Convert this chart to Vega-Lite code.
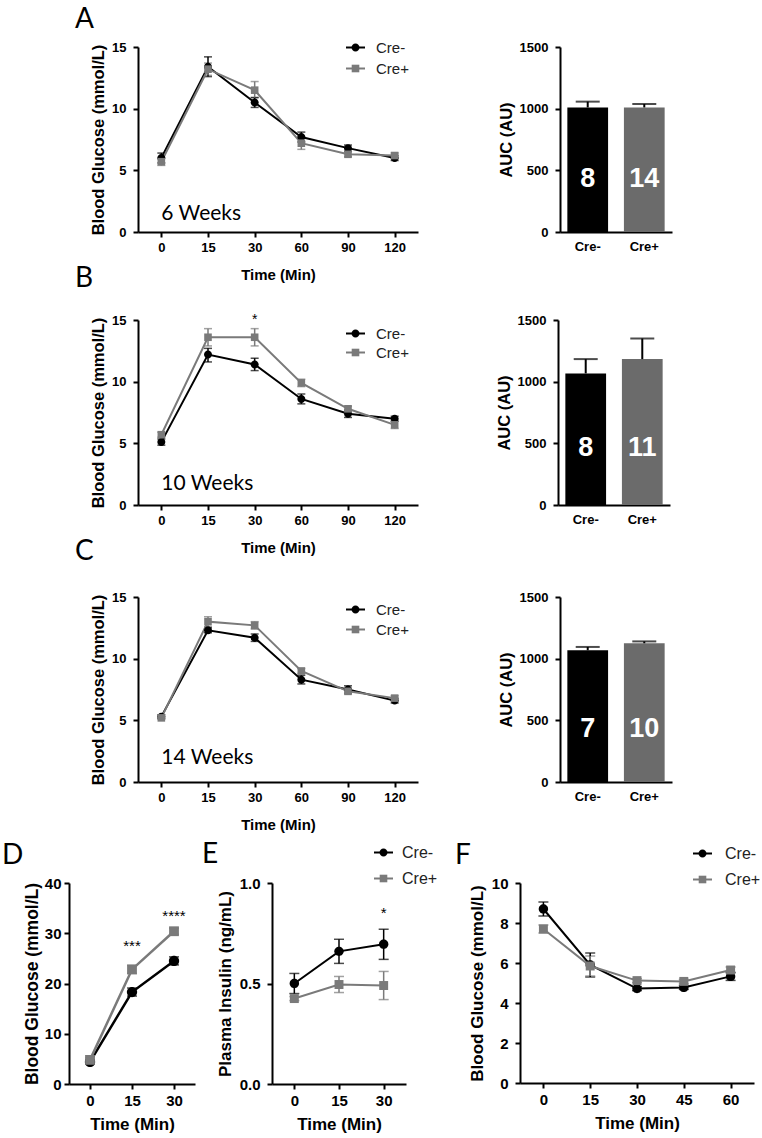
{
  "$schema": "https://vega.github.io/schema/vega-lite/v6.json",
  "padding": {"left": 2, "top": 6, "right": 2, "bottom": 2},
  "background": "white",
  "config": {
    "view": {"stroke": null},
    "font": "Liberation Sans",
    "axis": {
      "domainColor": "#000", "domainWidth": 2, "tickColor": "#000", "tickWidth": 2, "tickSize": 5,
      "labelFont": "Liberation Sans", "labelFontWeight": "bold", "labelFontSize": 13, "labelColor": "#000",
      "titleFont": "Liberation Sans", "titleFontWeight": "bold", "titleFontSize": 15, "titleColor": "#000",
      "grid": false, "labelAngle": 0, "labelPadding": 4, "labelOverlap": false
    },
    "axisY": {"titlePadding": 5, "labelPadding": 7, "titleFontSize": 16.5},
    "axisX": {"titlePadding": 13},
    "scale": {"nice": false},
    "title": {"font": "Lato", "fontWeight": "normal", "fontSize": 28, "anchor": "start", "frame": "group", "color": "#000"},
    "legend": {"orient": "none", "title": null, "labelFont": "Liberation Sans", "labelFontSize": 15, "labelColor": "#222", "symbolSize": 361, "rowPadding": 0, "labelOffset": 10, "symbolStrokeWidth": 2},
    "text": {"font": "Lato"}
  },
  "datasets": {
    "glucA": [
      {"time": 0, "group": "Cre-", "mean": 6.0, "lo": 5.6, "hi": 6.4},
      {"time": 15, "group": "Cre-", "mean": 13.4, "lo": 12.6, "hi": 14.2},
      {"time": 30, "group": "Cre-", "mean": 10.5, "lo": 10.1, "hi": 10.9},
      {"time": 60, "group": "Cre-", "mean": 7.7, "lo": 7.3, "hi": 8.1},
      {"time": 90, "group": "Cre-", "mean": 6.8, "lo": 6.55, "hi": 7.05},
      {"time": 120, "group": "Cre-", "mean": 6.0, "lo": 5.8, "hi": 6.2},
      {"time": 0, "group": "Cre+", "mean": 5.7, "lo": 5.4, "hi": 6.0},
      {"time": 15, "group": "Cre+", "mean": 13.2, "lo": 12.7, "hi": 13.7},
      {"time": 30, "group": "Cre+", "mean": 11.5, "lo": 10.9, "hi": 12.2},
      {"time": 60, "group": "Cre+", "mean": 7.2, "lo": 6.7, "hi": 7.7},
      {"time": 90, "group": "Cre+", "mean": 6.3, "lo": 6.1, "hi": 6.5},
      {"time": 120, "group": "Cre+", "mean": 6.2, "lo": 6.0, "hi": 6.4}
    ],
    "glucB": [
      {"time": 0, "group": "Cre-", "mean": 5.1, "lo": 4.85, "hi": 5.35},
      {"time": 15, "group": "Cre-", "mean": 12.2, "lo": 11.6, "hi": 12.7},
      {"time": 30, "group": "Cre-", "mean": 11.4, "lo": 10.9, "hi": 11.9},
      {"time": 60, "group": "Cre-", "mean": 8.6, "lo": 8.2, "hi": 9.0},
      {"time": 90, "group": "Cre-", "mean": 7.4, "lo": 7.1, "hi": 7.7},
      {"time": 120, "group": "Cre-", "mean": 7.0, "lo": 6.8, "hi": 7.2},
      {"time": 0, "group": "Cre+", "mean": 5.7, "lo": 5.5, "hi": 5.9},
      {"time": 15, "group": "Cre+", "mean": 13.6, "lo": 12.9, "hi": 14.3},
      {"time": 30, "group": "Cre+", "mean": 13.6, "lo": 12.9, "hi": 14.3},
      {"time": 60, "group": "Cre+", "mean": 9.9, "lo": 9.6, "hi": 10.2},
      {"time": 90, "group": "Cre+", "mean": 7.8, "lo": 7.6, "hi": 8.0},
      {"time": 120, "group": "Cre+", "mean": 6.5, "lo": 6.2, "hi": 6.8}
    ],
    "glucC": [
      {"time": 0, "group": "Cre-", "mean": 5.3, "lo": 5.15, "hi": 5.45},
      {"time": 15, "group": "Cre-", "mean": 12.3, "lo": 12.1, "hi": 12.5},
      {"time": 30, "group": "Cre-", "mean": 11.7, "lo": 11.4, "hi": 12.0},
      {"time": 60, "group": "Cre-", "mean": 8.3, "lo": 7.95, "hi": 8.65},
      {"time": 90, "group": "Cre-", "mean": 7.5, "lo": 7.2, "hi": 7.8},
      {"time": 120, "group": "Cre-", "mean": 6.6, "lo": 6.4, "hi": 6.8},
      {"time": 0, "group": "Cre+", "mean": 5.2, "lo": 5.1, "hi": 5.3},
      {"time": 15, "group": "Cre+", "mean": 13.0, "lo": 12.6, "hi": 13.4},
      {"time": 30, "group": "Cre+", "mean": 12.7, "lo": 12.4, "hi": 13.0},
      {"time": 60, "group": "Cre+", "mean": 9.0, "lo": 8.8, "hi": 9.2},
      {"time": 90, "group": "Cre+", "mean": 7.35, "lo": 7.15, "hi": 7.55},
      {"time": 120, "group": "Cre+", "mean": 6.8, "lo": 6.6, "hi": 7.0}
    ],
    "aucA": [
      {"group": "Cre-", "auc": 1010, "hi": 1057, "n": "8"},
      {"group": "Cre+", "auc": 1010, "hi": 1038, "n": "14"}
    ],
    "aucB": [
      {"group": "Cre-", "auc": 1067, "hi": 1183, "n": "8"},
      {"group": "Cre+", "auc": 1183, "hi": 1350, "n": "11"}
    ],
    "aucC": [
      {"group": "Cre-", "auc": 1068, "hi": 1095, "n": "7"},
      {"group": "Cre+", "auc": 1125, "hi": 1140, "n": "10"}
    ],
    "glucD": [
      {"time": 0, "group": "Cre-", "mean": 4.4, "lo": 4.0, "hi": 4.8},
      {"time": 15, "group": "Cre-", "mean": 18.3, "lo": 17.5, "hi": 19.1},
      {"time": 30, "group": "Cre-", "mean": 24.5, "lo": 23.7, "hi": 25.3},
      {"time": 0, "group": "Cre+", "mean": 4.8, "lo": 4.4, "hi": 5.2},
      {"time": 15, "group": "Cre+", "mean": 22.8, "lo": 22.0, "hi": 23.6},
      {"time": 30, "group": "Cre+", "mean": 30.4, "lo": 29.8, "hi": 31.0}
    ],
    "insE": [
      {"time": 0, "group": "Cre-", "mean": 0.5, "lo": 0.45, "hi": 0.55},
      {"time": 15, "group": "Cre-", "mean": 0.66, "lo": 0.6, "hi": 0.72},
      {"time": 30, "group": "Cre-", "mean": 0.695, "lo": 0.62, "hi": 0.77},
      {"time": 0, "group": "Cre+", "mean": 0.425, "lo": 0.415, "hi": 0.435},
      {"time": 15, "group": "Cre+", "mean": 0.495, "lo": 0.455, "hi": 0.535},
      {"time": 30, "group": "Cre+", "mean": 0.49, "lo": 0.42, "hi": 0.56}
    ],
    "glucF": [
      {"time": 0, "group": "Cre-", "mean": 8.7, "lo": 8.35, "hi": 9.05},
      {"time": 15, "group": "Cre-", "mean": 5.9, "lo": 5.3, "hi": 6.5},
      {"time": 30, "group": "Cre-", "mean": 4.72, "lo": 4.62, "hi": 4.82},
      {"time": 45, "group": "Cre-", "mean": 4.78, "lo": 4.68, "hi": 4.88},
      {"time": 60, "group": "Cre-", "mean": 5.33, "lo": 5.13, "hi": 5.53},
      {"time": 0, "group": "Cre+", "mean": 7.7, "lo": 7.5, "hi": 7.9},
      {"time": 15, "group": "Cre+", "mean": 5.85, "lo": 5.35, "hi": 6.35},
      {"time": 30, "group": "Cre+", "mean": 5.12, "lo": 5.02, "hi": 5.22},
      {"time": 45, "group": "Cre+", "mean": 5.08, "lo": 4.98, "hi": 5.18},
      {"time": 60, "group": "Cre+", "mean": 5.65, "lo": 5.5, "hi": 5.8}
    ]
  },
  "spacing": 9,
  "resolve": {"scale": {"color": "independent", "shape": "independent"}, "legend": {"color": "independent", "shape": "independent"}},
  "vconcat": [
    {
      "spacing": -17,
      "resolve": {"scale": {"color": "independent", "shape": "independent"}, "legend": {"color": "independent", "shape": "independent"}},
      "vconcat": [
        {
          "bounds": "flush", "spacing": 0,
          "resolve": {"scale": {"color": "independent", "shape": "independent"}, "legend": {"color": "independent", "shape": "independent"}},
          "hconcat": [
            {"width": 69, "height": 1, "data": {"values": []}, "mark": "point"},
            {
              "width": 280, "height": 185,
              "title": {"text": "A", "dx": -63, "offset": 3},
              "resolve": {"legend": {"color": "independent", "shape": "independent"}},
              "layer": [
                {
                  "data": {"name": "glucA"},
                  "resolve": {"legend": {"color": "independent", "shape": "independent"}},
                  "encoding": {"x": {"field": "time", "type": "ordinal", "scale": {"type": "point", "padding": 0.5}, "axis": {"title": "Time (Min)"}}},
                  "layer": [
                    {"mark": {"type": "errorbar", "thickness": 1.5, "ticks": {"size": 8, "thickness": 1.5}},
                     "encoding": {"y": {"field": "lo", "type": "quantitative", "title": "Blood  Glucose (mmol/L)", "scale": {"domain": [0, 15], "nice": false}, "axis": {"values": [0, 5, 10, 15], "labelOverlap": false}}, "y2": {"field": "hi"},
                       "color": {"field": "group", "type": "nominal", "scale": {"domain": ["Cre-", "Cre+"], "range": ["#000000", "#7a7a7a"]}, "legend": null}}},
                    {"mark": {"type": "line", "strokeWidth": 2},
                     "encoding": {"y": {"field": "mean", "type": "quantitative", "title": "Blood  Glucose (mmol/L)", "axis": {"values": [0, 5, 10, 15], "labelOverlap": false}},
                       "color": {"field": "group", "type": "nominal", "scale": {"domain": ["Cre-", "Cre+"], "range": ["#000000", "#7a7a7a"]}, "legend": {"legendX": 207, "legendY": -10, "rowPadding": 2, "symbolType": "M-1,0H1", "labelColor": "transparent"}}}},
                    {"mark": {"type": "point", "filled": true, "opacity": 1, "size": 361},
                     "encoding": {"y": {"field": "mean", "type": "quantitative", "title": "Blood  Glucose (mmol/L)", "axis": {"values": [0, 5, 10, 15], "labelOverlap": false}},
                       "color": {"field": "group", "type": "nominal", "scale": {"domain": ["Cre-", "Cre+"], "range": ["#000000", "#7a7a7a"]}, "legend": {"legendX": 207, "legendY": -10, "rowPadding": 2}},
                       "shape": {"field": "group", "type": "nominal", "scale": {"domain": ["Cre-", "Cre+"], "range": ["M0.42,0A0.42,0.42,0,1,1,-0.42,0A0.42,0.42,0,1,1,0.42,0Z", "M-0.4,-0.4H0.4V0.4H-0.4Z"]}, "legend": {"legendX": 207, "legendY": -10, "rowPadding": 2}}}}
                  ]
                },
                {
                  "data": {"values": [{"label": "6 Weeks"}]},
                  "mark": {"type": "text", "align": "left", "baseline": "middle", "font": "Lato", "fontSize": 21},
                  "encoding": {"x": {"datum": 0, "type": "ordinal"}, "y": {"datum": 1.45, "type": "quantitative"}, "text": {"field": "label"}, "color": {"value": "#000000"}}
                }
              ]
            },
            {"width": 142, "height": 1, "data": {"values": []}, "mark": "point"},
            {
              "width": 112, "height": 185,
              "data": {"name": "aucA"},
              "encoding": {"x": {"field": "group", "type": "nominal", "scale": {"domain": ["Cre-", "Cre+"], "paddingInner": 0.28, "paddingOuter": 0.13}, "axis": {"title": null, "ticks": false, "labelPadding": 8}}},
              "layer": [
                {"mark": {"type": "bar"}, "encoding": {"y": {"field": "auc", "type": "quantitative", "title": "AUC (AU)", "scale": {"domain": [0, 1500], "nice": false}, "axis": {"values": [0, 500, 1000, 1500], "format": "d"}},
                  "color": {"field": "group", "type": "nominal", "scale": {"domain": ["Cre-", "Cre+"], "range": ["#000000", "#6b6b6b"]}, "legend": null}}},
                {"mark": {"type": "rule", "color": "#000", "strokeWidth": 2}, "encoding": {"y": {"field": "auc", "type": "quantitative", "title": "AUC (AU)", "axis": {"values": [0, 500, 1000, 1500], "format": "d"}}, "y2": {"field": "hi"}}},
                {"mark": {"type": "tick", "color": "#000", "thickness": 2, "size": 24}, "encoding": {"y": {"field": "hi", "type": "quantitative", "title": "AUC (AU)", "axis": {"values": [0, 500, 1000, 1500], "format": "d"}}}},
                {"mark": {"type": "text", "font": "Liberation Sans", "fontWeight": "bold", "fontSize": 27, "baseline": "middle"}, "encoding": {"y": {"datum": 430, "type": "quantitative"}, "text": {"field": "n"}, "color": {"value": "#ffffff"}}}
              ]
            }
          ]
        },
        {
          "bounds": "flush", "spacing": 0,
          "resolve": {"scale": {"color": "independent", "shape": "independent"}, "legend": {"color": "independent", "shape": "independent"}},
          "hconcat": [
            {"width": 69, "height": 1, "data": {"values": []}, "mark": "point"},
            {
              "width": 280, "height": 185,
              "title": {"text": "B", "dx": -63, "offset": 20},
              "resolve": {"legend": {"color": "independent", "shape": "independent"}},
              "layer": [
                {
                  "data": {"name": "glucB"},
                  "resolve": {"legend": {"color": "independent", "shape": "independent"}},
                  "encoding": {"x": {"field": "time", "type": "ordinal", "scale": {"type": "point", "padding": 0.5}, "axis": {"title": "Time (Min)"}}},
                  "layer": [
                    {"mark": {"type": "errorbar", "thickness": 1.5, "ticks": {"size": 8, "thickness": 1.5}},
                     "encoding": {"y": {"field": "lo", "type": "quantitative", "title": "Blood  Glucose (mmol/L)", "scale": {"domain": [0, 15], "nice": false}, "axis": {"values": [0, 5, 10, 15], "labelOverlap": false}}, "y2": {"field": "hi"},
                       "color": {"field": "group", "type": "nominal", "scale": {"domain": ["Cre-", "Cre+"], "range": ["#000000", "#7a7a7a"]}, "legend": null}}},
                    {"mark": {"type": "line", "strokeWidth": 2},
                     "encoding": {"y": {"field": "mean", "type": "quantitative", "title": "Blood  Glucose (mmol/L)", "axis": {"values": [0, 5, 10, 15], "labelOverlap": false}},
                       "color": {"field": "group", "type": "nominal", "scale": {"domain": ["Cre-", "Cre+"], "range": ["#000000", "#7a7a7a"]}, "legend": {"legendX": 207, "legendY": 3, "symbolType": "M-1,0H1", "labelColor": "transparent"}}}},
                    {"mark": {"type": "point", "filled": true, "opacity": 1, "size": 361},
                     "encoding": {"y": {"field": "mean", "type": "quantitative", "title": "Blood  Glucose (mmol/L)", "axis": {"values": [0, 5, 10, 15], "labelOverlap": false}},
                       "color": {"field": "group", "type": "nominal", "scale": {"domain": ["Cre-", "Cre+"], "range": ["#000000", "#7a7a7a"]}, "legend": {"legendX": 207, "legendY": 3}},
                       "shape": {"field": "group", "type": "nominal", "scale": {"domain": ["Cre-", "Cre+"], "range": ["M0.42,0A0.42,0.42,0,1,1,-0.42,0A0.42,0.42,0,1,1,0.42,0Z", "M-0.4,-0.4H0.4V0.4H-0.4Z"]}, "legend": {"legendX": 207, "legendY": 3}}}}
                  ]
                },
                {
                  "data": {"values": [{"label": "10 Weeks"}]},
                  "mark": {"type": "text", "align": "left", "baseline": "middle", "font": "Lato", "fontSize": 21},
                  "encoding": {"x": {"datum": 0, "type": "ordinal"}, "y": {"datum": 1.7, "type": "quantitative"}, "text": {"field": "label"}, "color": {"value": "#000000"}}
                },
                {
                  "data": {"values": [{"time": 30, "y": 15.0, "label": "*"}]},
                  "mark": {"type": "text", "baseline": "middle", "font": "Liberation Sans", "fontSize": 14},
                  "encoding": {"x": {"field": "time", "type": "ordinal"}, "y": {"field": "y", "type": "quantitative", "title": "Blood  Glucose (mmol/L)", "axis": {"values": [0, 5, 10, 15], "labelOverlap": false}}, "text": {"field": "label"}, "color": {"value": "#000000"}}
                }
              ]
            },
            {"width": 140, "height": 1, "data": {"values": []}, "mark": "point"},
            {
              "width": 112, "height": 185,
              "data": {"name": "aucB"},
              "encoding": {"x": {"field": "group", "type": "nominal", "scale": {"domain": ["Cre-", "Cre+"], "paddingInner": 0.28, "paddingOuter": 0.13}, "axis": {"title": null, "ticks": false, "labelPadding": 8}}},
              "layer": [
                {"mark": {"type": "bar"}, "encoding": {"y": {"field": "auc", "type": "quantitative", "title": "AUC (AU)", "scale": {"domain": [0, 1500], "nice": false}, "axis": {"values": [0, 500, 1000, 1500], "format": "d"}},
                  "color": {"field": "group", "type": "nominal", "scale": {"domain": ["Cre-", "Cre+"], "range": ["#000000", "#6b6b6b"]}, "legend": null}}},
                {"mark": {"type": "rule", "color": "#000", "strokeWidth": 2}, "encoding": {"y": {"field": "auc", "type": "quantitative", "title": "AUC (AU)", "axis": {"values": [0, 500, 1000, 1500], "format": "d"}}, "y2": {"field": "hi"}}},
                {"mark": {"type": "tick", "color": "#000", "thickness": 2, "size": 24}, "encoding": {"y": {"field": "hi", "type": "quantitative", "title": "AUC (AU)", "axis": {"values": [0, 500, 1000, 1500], "format": "d"}}}},
                {"mark": {"type": "text", "font": "Liberation Sans", "fontWeight": "bold", "fontSize": 27, "baseline": "middle"}, "encoding": {"y": {"datum": 460, "type": "quantitative"}, "text": {"field": "n"}, "color": {"value": "#ffffff"}}}
              ]
            }
          ]
        },
        {
          "bounds": "flush", "spacing": 0,
          "resolve": {"scale": {"color": "independent", "shape": "independent"}, "legend": {"color": "independent", "shape": "independent"}},
          "hconcat": [
            {"width": 69, "height": 1, "data": {"values": []}, "mark": "point"},
            {
              "width": 280, "height": 185,
              "title": {"text": "C", "dx": -63, "offset": 25},
              "resolve": {"legend": {"color": "independent", "shape": "independent"}},
              "layer": [
                {
                  "data": {"name": "glucC"},
                  "resolve": {"legend": {"color": "independent", "shape": "independent"}},
                  "encoding": {"x": {"field": "time", "type": "ordinal", "scale": {"type": "point", "padding": 0.5}, "axis": {"title": "Time (Min)"}}},
                  "layer": [
                    {"mark": {"type": "errorbar", "thickness": 1.5, "ticks": {"size": 8, "thickness": 1.5}},
                     "encoding": {"y": {"field": "lo", "type": "quantitative", "title": "Blood  Glucose (mmol/L)", "scale": {"domain": [0, 15], "nice": false}, "axis": {"values": [0, 5, 10, 15], "labelOverlap": false}}, "y2": {"field": "hi"},
                       "color": {"field": "group", "type": "nominal", "scale": {"domain": ["Cre-", "Cre+"], "range": ["#000000", "#7a7a7a"]}, "legend": null}}},
                    {"mark": {"type": "line", "strokeWidth": 2},
                     "encoding": {"y": {"field": "mean", "type": "quantitative", "title": "Blood  Glucose (mmol/L)", "axis": {"values": [0, 5, 10, 15], "labelOverlap": false}},
                       "color": {"field": "group", "type": "nominal", "scale": {"domain": ["Cre-", "Cre+"], "range": ["#000000", "#7a7a7a"]}, "legend": {"legendX": 207, "legendY": 2, "rowPadding": 1, "symbolType": "M-1,0H1", "labelColor": "transparent"}}}},
                    {"mark": {"type": "point", "filled": true, "opacity": 1, "size": 361},
                     "encoding": {"y": {"field": "mean", "type": "quantitative", "title": "Blood  Glucose (mmol/L)", "axis": {"values": [0, 5, 10, 15], "labelOverlap": false}},
                       "color": {"field": "group", "type": "nominal", "scale": {"domain": ["Cre-", "Cre+"], "range": ["#000000", "#7a7a7a"]}, "legend": {"legendX": 207, "legendY": 2, "rowPadding": 1}},
                       "shape": {"field": "group", "type": "nominal", "scale": {"domain": ["Cre-", "Cre+"], "range": ["M0.42,0A0.42,0.42,0,1,1,-0.42,0A0.42,0.42,0,1,1,0.42,0Z", "M-0.4,-0.4H0.4V0.4H-0.4Z"]}, "legend": {"legendX": 207, "legendY": 2, "rowPadding": 1}}}}
                  ]
                },
                {
                  "data": {"values": [{"label": "14 Weeks"}]},
                  "mark": {"type": "text", "align": "left", "baseline": "middle", "font": "Lato", "fontSize": 21},
                  "encoding": {"x": {"datum": 0, "type": "ordinal"}, "y": {"datum": 1.95, "type": "quantitative"}, "text": {"field": "label"}, "color": {"value": "#000000"}}
                }
              ]
            },
            {"width": 142, "height": 1, "data": {"values": []}, "mark": "point"},
            {
              "width": 112, "height": 185,
              "data": {"name": "aucC"},
              "encoding": {"x": {"field": "group", "type": "nominal", "scale": {"domain": ["Cre-", "Cre+"], "paddingInner": 0.28, "paddingOuter": 0.13}, "axis": {"title": null, "ticks": false, "labelPadding": 8}}},
              "layer": [
                {"mark": {"type": "bar"}, "encoding": {"y": {"field": "auc", "type": "quantitative", "title": "AUC (AU)", "scale": {"domain": [0, 1500], "nice": false}, "axis": {"values": [0, 500, 1000, 1500], "format": "d"}},
                  "color": {"field": "group", "type": "nominal", "scale": {"domain": ["Cre-", "Cre+"], "range": ["#000000", "#6b6b6b"]}, "legend": null}}},
                {"mark": {"type": "rule", "color": "#000", "strokeWidth": 2}, "encoding": {"y": {"field": "auc", "type": "quantitative", "title": "AUC (AU)", "axis": {"values": [0, 500, 1000, 1500], "format": "d"}}, "y2": {"field": "hi"}}},
                {"mark": {"type": "tick", "color": "#000", "thickness": 2, "size": 24}, "encoding": {"y": {"field": "hi", "type": "quantitative", "title": "AUC (AU)", "axis": {"values": [0, 500, 1000, 1500], "format": "d"}}}},
                {"mark": {"type": "text", "font": "Liberation Sans", "fontWeight": "bold", "fontSize": 27, "baseline": "middle"}, "encoding": {"y": {"datum": 430, "type": "quantitative"}, "text": {"field": "n"}, "color": {"value": "#ffffff"}}}
              ]
            }
          ]
        }
      ]
    },
    {
      "bounds": "flush", "spacing": 0,
      "resolve": {"scale": {"color": "independent", "shape": "independent"}, "legend": {"color": "independent", "shape": "independent"}},
      "hconcat": [
        {
          "width": 126, "height": 201,
          "title": {"text": "D", "dx": -67, "offset": 6},
          "layer": [
            {
              "data": {"name": "glucD"},
              "encoding": {
                "x": {"field": "time", "type": "ordinal", "scale": {"type": "point", "padding": 0.5}, "axis": {"title": "Time (Min)", "labelFontSize": 15, "titleFontSize": 17, "titlePadding": 8}},
                "color": {"field": "group", "type": "nominal", "scale": {"domain": ["Cre-", "Cre+"], "range": ["#000000", "#7a7a7a"]}, "legend": null}
              },
              "layer": [
                {"mark": {"type": "errorbar", "thickness": 1.5, "ticks": {"size": 10, "thickness": 1.5}},
                 "encoding": {"y": {"field": "lo", "type": "quantitative", "title": "Blood  Glucose (mmol/L)", "scale": {"domain": [0, 40], "nice": false}, "axis": {"values": [0, 10, 20, 30, 40], "labelFontSize": 15, "titleFontSize": 17.5, "labelPadding": 3, "titlePadding": 3, "labelOverlap": false}}, "y2": {"field": "hi"}}},
                {"mark": {"type": "line", "strokeWidth": 2.5}, "encoding": {"y": {"field": "mean", "type": "quantitative", "title": "Blood  Glucose (mmol/L)", "axis": {"values": [0, 10, 20, 30, 40], "labelFontSize": 15, "titleFontSize": 17.5, "labelPadding": 3, "titlePadding": 3, "labelOverlap": false}}}},
                {"mark": {"type": "point", "filled": true, "opacity": 1, "size": 600},
                 "encoding": {"y": {"field": "mean", "type": "quantitative", "title": "Blood  Glucose (mmol/L)", "axis": {"values": [0, 10, 20, 30, 40], "labelFontSize": 15, "titleFontSize": 17.5, "labelPadding": 3, "titlePadding": 3, "labelOverlap": false}},
                   "shape": {"field": "group", "type": "nominal", "scale": {"domain": ["Cre-", "Cre+"], "range": ["M0.42,0A0.42,0.42,0,1,1,-0.42,0A0.42,0.42,0,1,1,0.42,0Z", "M-0.4,-0.4H0.4V0.4H-0.4Z"]}, "legend": null}}}
              ]
            },
            {
              "data": {"values": [{"time": 15, "y": 27.5, "label": "***"}, {"time": 30, "y": 33.5, "label": "****"}]},
              "mark": {"type": "text", "baseline": "middle", "font": "Liberation Sans", "fontSize": 15},
              "encoding": {"x": {"field": "time", "type": "ordinal"}, "y": {"field": "y", "type": "quantitative", "title": "Blood  Glucose (mmol/L)", "axis": {"values": [0, 10, 20, 30, 40], "labelFontSize": 15, "titleFontSize": 17.5, "labelPadding": 3, "titlePadding": 3, "labelOverlap": false}}, "text": {"field": "label"}, "color": {"value": "#000000"}}
            }
          ]
        },
        {"width": 77, "height": 1, "data": {"values": []}, "mark": "point"},
        {
          "width": 134, "height": 201,
          "title": {"text": "E", "dx": -70, "offset": -27},
          "resolve": {"legend": {"color": "independent", "shape": "independent"}},
          "layer": [
            {
              "data": {"name": "insE"},
              "resolve": {"legend": {"color": "independent", "shape": "independent"}},
              "encoding": {"x": {"field": "time", "type": "ordinal", "scale": {"type": "point", "padding": 0.5}, "axis": {"title": "Time (Min)", "labelFontSize": 15, "titleFontSize": 17, "titlePadding": 8}}},
              "layer": [
                {"mark": {"type": "errorbar", "thickness": 1.5, "ticks": {"size": 10, "thickness": 1.5}},
                 "encoding": {"y": {"field": "lo", "type": "quantitative", "title": "Plasma Insulin (ng/mL)", "scale": {"domain": [0, 1], "nice": false}, "axis": {"values": [0, 0.5, 1], "format": ".1f", "labelFontSize": 15, "titleFontSize": 17, "labelOverlap": false}}, "y2": {"field": "hi"},
                   "color": {"field": "group", "type": "nominal", "scale": {"domain": ["Cre-", "Cre+"], "range": ["#000000", "#7a7a7a"]}, "legend": null}}},
                {"mark": {"type": "line", "strokeWidth": 2},
                 "encoding": {"y": {"field": "mean", "type": "quantitative", "title": "Plasma Insulin (ng/mL)", "axis": {"values": [0, 0.5, 1], "format": ".1f", "labelFontSize": 15, "titleFontSize": 17, "labelOverlap": false}},
                   "color": {"field": "group", "type": "nominal", "scale": {"domain": ["Cre-", "Cre+"], "range": ["#000000", "#7a7a7a"]}, "legend": {"legendX": 101, "legendY": -41, "rowPadding": 7, "labelOffset": 8, "labelFontSize": 16, "symbolType": "M-1,0H1", "labelColor": "transparent"}}}},
                {"mark": {"type": "point", "filled": true, "opacity": 1, "size": 500},
                 "encoding": {"y": {"field": "mean", "type": "quantitative", "title": "Plasma Insulin (ng/mL)", "axis": {"values": [0, 0.5, 1], "format": ".1f", "labelFontSize": 15, "titleFontSize": 17, "labelOverlap": false}},
                   "color": {"field": "group", "type": "nominal", "scale": {"domain": ["Cre-", "Cre+"], "range": ["#000000", "#7a7a7a"]}, "legend": {"legendX": 101, "legendY": -41, "rowPadding": 7, "labelOffset": 8, "labelFontSize": 16}},
                   "shape": {"field": "group", "type": "nominal", "scale": {"domain": ["Cre-", "Cre+"], "range": ["M0.42,0A0.42,0.42,0,1,1,-0.42,0A0.42,0.42,0,1,1,0.42,0Z", "M-0.4,-0.4H0.4V0.4H-0.4Z"]}, "legend": {"legendX": 101, "legendY": -41, "rowPadding": 7, "labelOffset": 8, "labelFontSize": 16}}}}
              ]
            },
            {
              "data": {"values": [{"time": 30, "y": 0.85, "label": "*"}]},
              "mark": {"type": "text", "baseline": "middle", "font": "Liberation Sans", "fontSize": 15},
              "encoding": {"x": {"field": "time", "type": "ordinal"}, "y": {"field": "y", "type": "quantitative", "title": "Plasma Insulin (ng/mL)", "axis": {"values": [0, 0.5, 1], "format": ".1f", "labelFontSize": 15, "titleFontSize": 17, "labelOverlap": false}}, "text": {"field": "label"}, "color": {"value": "#000000"}}
            }
          ]
        },
        {"width": 114, "height": 1, "data": {"values": []}, "mark": "point"},
        {
          "width": 234, "height": 200,
          "title": {"text": "F", "dx": -65, "offset": -27},
          "data": {"name": "glucF"},
          "resolve": {"legend": {"color": "independent", "shape": "independent"}},
          "encoding": {"x": {"field": "time", "type": "ordinal", "scale": {"type": "point", "padding": 0.5}, "axis": {"title": "Time (Min)", "labelFontSize": 15, "titleFontSize": 17, "titlePadding": 8}}},
          "layer": [
            {"mark": {"type": "errorbar", "thickness": 1.5, "ticks": {"size": 10, "thickness": 1.5}},
             "encoding": {"y": {"field": "lo", "type": "quantitative", "title": "Blood  Glucose (mmol/L)", "scale": {"domain": [0, 10], "nice": false}, "axis": {"values": [0, 2, 4, 6, 8, 10], "labelFontSize": 15, "titleFontSize": 17, "labelOverlap": false}}, "y2": {"field": "hi"},
               "color": {"field": "group", "type": "nominal", "scale": {"domain": ["Cre-", "Cre+"], "range": ["#000000", "#7a7a7a"]}, "legend": null}}},
            {"mark": {"type": "line", "strokeWidth": 2},
             "encoding": {"y": {"field": "mean", "type": "quantitative", "title": "Blood  Glucose (mmol/L)", "axis": {"values": [0, 2, 4, 6, 8, 10], "labelFontSize": 15, "titleFontSize": 17, "labelOverlap": false}},
               "color": {"field": "group", "type": "nominal", "scale": {"domain": ["Cre-", "Cre+"], "range": ["#000000", "#7a7a7a"]}, "legend": {"legendX": 172, "legendY": -40, "rowPadding": 7, "labelOffset": 12, "labelFontSize": 16, "symbolType": "M-1,0H1", "labelColor": "transparent"}}}},
            {"mark": {"type": "point", "filled": true, "opacity": 1, "size": 500},
             "encoding": {"y": {"field": "mean", "type": "quantitative", "title": "Blood  Glucose (mmol/L)", "axis": {"values": [0, 2, 4, 6, 8, 10], "labelFontSize": 15, "titleFontSize": 17, "labelOverlap": false}},
               "color": {"field": "group", "type": "nominal", "scale": {"domain": ["Cre-", "Cre+"], "range": ["#000000", "#7a7a7a"]}, "legend": {"legendX": 172, "legendY": -40, "rowPadding": 7, "labelOffset": 12, "labelFontSize": 16}},
               "shape": {"field": "group", "type": "nominal", "scale": {"domain": ["Cre-", "Cre+"], "range": ["M0.42,0A0.42,0.42,0,1,1,-0.42,0A0.42,0.42,0,1,1,0.42,0Z", "M-0.4,-0.4H0.4V0.4H-0.4Z"]}, "legend": {"legendX": 172, "legendY": -40, "rowPadding": 7, "labelOffset": 12, "labelFontSize": 16}}}}
          ]
        }
      ]
    }
  ]
}
